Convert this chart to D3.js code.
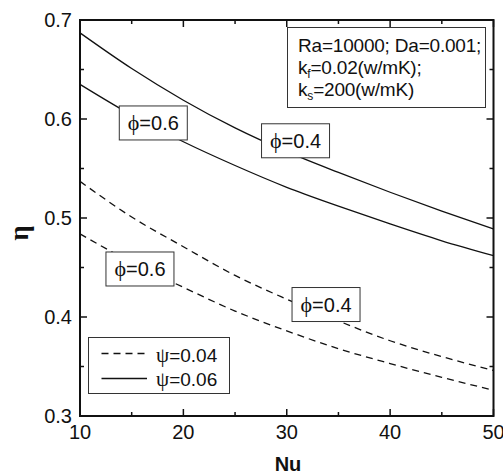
<!DOCTYPE html>
<html>
<head>
<meta charset="utf-8">
<script src="https://cdn.jsdelivr.net/npm/d3@7"></script>
<style>
  body { margin: 0; background: #fff; }
  text { font-family: "Liberation Sans", Arial, sans-serif; fill: #111; }
  .greek { font-family: "Liberation Serif", serif; }
</style>
</head>
<body>
<div id="chart"></div>
<script>
const nu = [10, 15, 20, 25, 30, 35, 40, 45, 50];

// eta for each case
const solidPhi04 = [0.687, 0.651, 0.619, 0.591, 0.567, 0.546, 0.526, 0.507, 0.489];
const solidPhi06 = [0.635, 0.604, 0.577, 0.553, 0.531, 0.512, 0.494, 0.477, 0.462];
const dashPhi06  = [0.537, 0.501, 0.471, 0.442, 0.418, 0.396, 0.376, 0.360, 0.346];
const dashPhi04  = [0.484, 0.455, 0.430, 0.406, 0.386, 0.368, 0.353, 0.339, 0.326];

const xTicks = [10, 20, 30, 40, 50];
const yTicks = [0.3, 0.4, 0.5, 0.6, 0.7];

// phi labels: [Nu, eta] of box centre
const phiLabels = [
  { text: "0.6", at: [17.09, 0.596] },
  { text: "0.4", at: [30.85, 0.578] },
  { text: "0.6", at: [15.80, 0.4485] },
  { text: "0.4", at: [33.80, 0.4126] }
];

const width = 503, height = 475;
const svg = d3.select("#chart").append("svg")
  .attr("width", width).attr("height", height);

const x = d3.scaleLinear().domain([10, 50]).range([80, 493.5]);
const y = d3.scaleLinear().domain([0.3, 0.7]).range([416, 20]);

// curves
const line = d3.line()
  .x((d, i) => x(nu[i]))
  .y(d => y(d))
  .curve(d3.curveMonotoneX);

const series = [
  { v: solidPhi04, dash: null },
  { v: solidPhi06, dash: null },
  { v: dashPhi06, dash: "7,5" },
  { v: dashPhi04, dash: "7,5" }
];

svg.append("g").selectAll("path")
  .data(series)
  .enter()
  .append("path")
  .attr("d", d => line(d.v))
  .attr("fill", "none")
  .attr("stroke", "#111")
  .attr("stroke-width", 1.3)
  .attr("stroke-dasharray", d => d.dash);

// frame with inward ticks on all four sides
const major = 7, minor = 4;
const g = svg.append("g").attr("stroke", "#111");

const xAll = d3.range(10, 50.01, 5);
const yAll = d3.range(0.3, 0.701, 0.05);

xAll.forEach(v => {
  const len = Math.round(v) % 10 === 0 ? major : minor;
  g.append("line").attr("x1", x(v)).attr("x2", x(v))
    .attr("y1", y(0.3)).attr("y2", y(0.3) - len).attr("stroke-width", 1.5);
  g.append("line").attr("x1", x(v)).attr("x2", x(v))
    .attr("y1", y(0.7)).attr("y2", y(0.7) + len).attr("stroke-width", 1.5);
});
yAll.forEach(v => {
  const len = Math.round(v * 100) % 10 === 0 ? major : minor;
  g.append("line").attr("x1", x(10)).attr("x2", x(10) + len)
    .attr("y1", y(v)).attr("y2", y(v)).attr("stroke-width", 1.5);
  g.append("line").attr("x1", x(50)).attr("x2", x(50) - len)
    .attr("y1", y(v)).attr("y2", y(v)).attr("stroke-width", 1.5);
});

g.append("rect")
  .attr("x", x(10)).attr("y", y(0.7))
  .attr("width", x(50) - x(10)).attr("height", y(0.3) - y(0.7))
  .attr("fill", "none").attr("stroke-width", 2);

// tick labels
svg.append("g").selectAll("text")
  .data(xTicks).enter().append("text")
  .attr("x", d => x(d)).attr("y", 439)
  .attr("text-anchor", "middle")
  .attr("font-size", 20)
  .text(d => d);

svg.append("g").selectAll("text")
  .data(yTicks).enter().append("text")
  .attr("x", 72).attr("y", d => y(d) + 7)
  .attr("text-anchor", "end")
  .attr("font-size", 20)
  .text(d => d.toFixed(1));

// axis titles
svg.append("text")
  .attr("x", 288).attr("y", 471)
  .attr("text-anchor", "middle")
  .attr("font-size", 20).attr("font-weight", "bold")
  .text("Nu");

svg.append("text")
  .attr("class", "greek")
  .attr("transform", "translate(28,233) rotate(-90)")
  .attr("text-anchor", "middle")
  .attr("font-size", 27).attr("font-weight", "bold")
  .text("η");

// phi label boxes
const lab = svg.append("g").selectAll("g")
  .data(phiLabels).enter().append("g")
  .attr("transform", d => `translate(${x(d.at[0])},${y(d.at[1])})`);

lab.append("rect")
  .attr("x", -34).attr("y", -17).attr("width", 68).attr("height", 34)
  .attr("fill", "#fff").attr("stroke", "#333").attr("stroke-width", 1);

const lt = lab.append("text")
  .attr("y", 7).attr("text-anchor", "middle").attr("font-size", 20);
lt.append("tspan").attr("class", "greek").attr("font-size", 22).text("ϕ");
lt.append("tspan").text(d => "=" + d.text);

// parameter box
const info = svg.append("g");
info.append("rect")
  .attr("x", 287.5).attr("y", 27.5).attr("width", 198).attr("height", 80)
  .attr("fill", "#fff").attr("stroke", "#333").attr("stroke-width", 1);
info.append("text").attr("x", 298).attr("y", 52).attr("font-size", 19)
  .attr("letter-spacing", -0.2)
  .text("Ra=10000; Da=0.001;");
const t2 = info.append("text").attr("x", 298).attr("y", 74).attr("font-size", 19)
  .attr("letter-spacing", -0.2);
t2.append("tspan").text("k");
t2.append("tspan").attr("font-size", 12).attr("dy", 4).text("f");
t2.append("tspan").attr("dy", -4).text("=0.02(w/mK);");
const t3 = info.append("text").attr("x", 298).attr("y", 96).attr("font-size", 19)
  .attr("letter-spacing", -0.2);
t3.append("tspan").text("k");
t3.append("tspan").attr("font-size", 12).attr("dy", 4).text("s");
t3.append("tspan").attr("dy", -4).text("=200(w/mK)");

// legend
const legendItems = [
  { label: "0.04", dash: "7,5", yy: 353.5, ty: 361.5 },
  { label: "0.06", dash: null, yy: 378.5, ty: 386 }
];
const leg = svg.append("g");
leg.append("rect")
  .attr("x", 88.5).attr("y", 337.5).attr("width", 141).attr("height", 56)
  .attr("fill", "#fff").attr("stroke", "#333").attr("stroke-width", 1);
legendItems.forEach(d => {
  leg.append("line")
    .attr("x1", 101.5).attr("x2", 147).attr("y1", d.yy).attr("y2", d.yy)
    .attr("stroke", "#111").attr("stroke-width", 1.3)
    .attr("stroke-dasharray", d.dash);
  const t = leg.append("text").attr("x", 156).attr("y", d.ty).attr("font-size", 19);
  t.append("tspan").attr("class", "greek").attr("font-size", 21).text("ψ");
  t.append("tspan").text("=" + d.label);
});
</script>
</body>
</html>
